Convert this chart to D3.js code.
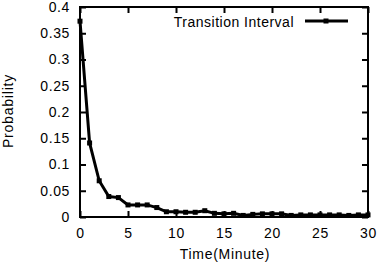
<!DOCTYPE html>
<html lang="en">
<head>
<meta charset="utf-8">
<script src="https://d3js.org/d3.v7.min.js"></script>
<style>
  body { margin: 0; background: #fff; }
  text { font-family: "Liberation Sans", Arial, sans-serif; font-size: 14px; fill: #000; }
</style>
</head>
<body>
<div id="chart"></div>
<script>
// data
var minutes = d3.range(0, 31);
var probs = [0.373, 0.141, 0.069, 0.039, 0.037, 0.023, 0.023, 0.023, 0.018, 0.010,
             0.010, 0.009, 0.009, 0.012, 0.007, 0.006, 0.007, 0.003, 0.005, 0.006,
             0.006, 0.006, 0.003, 0.004, 0.004, 0.004, 0.004, 0.004, 0.003, 0.004, 0.004];
var xTicks = [0, 5, 10, 15, 20, 25, 30];
var yTicks = [0, 0.05, 0.1, 0.15, 0.2, 0.25, 0.3, 0.35, 0.4];
var seriesName = "Transition Interval";

var width = 378, height = 266;
var margin = {top: 7, right: 10, bottom: 49, left: 80};

var svg = d3.select("#chart").append("svg")
    .attr("width", width)
    .attr("height", height);

var x = d3.scaleLinear().domain([0, 30]).range([margin.left, width - margin.right]);
var y = d3.scaleLinear().domain([0, 0.4]).range([height - margin.bottom, margin.top]);

// frame
svg.append("rect")
    .attr("x", x(0)).attr("y", y(0.4))
    .attr("width", x(30) - x(0)).attr("height", y(0) - y(0.4))
    .attr("fill", "none").attr("stroke", "#000").attr("stroke-width", 2);

// axes, inner ticks mirrored
var fmt = function(d) { return d3.format("")(+d.toFixed(2)); };
svg.append("g").attr("transform", "translate(0," + y(0) + ")")
    .call(d3.axisBottom(x).tickValues(xTicks).tickSize(-6).tickPadding(11).tickFormat(d3.format("d")))
    .call(g => g.select(".domain").remove());
svg.append("g").attr("transform", "translate(0," + y(0.4) + ")")
    .call(d3.axisTop(x).tickValues(xTicks).tickSize(-6).tickFormat(""))
    .call(g => g.select(".domain").remove());
svg.append("g").attr("transform", "translate(" + x(0) + ",0)")
    .call(d3.axisLeft(y).tickValues(yTicks).tickSize(-6).tickPadding(10).tickFormat(fmt))
    .call(g => g.select(".domain").remove());
svg.append("g").attr("transform", "translate(" + x(30) + ",0)")
    .call(d3.axisRight(y).tickValues(yTicks).tickSize(-6).tickFormat(""))
    .call(g => g.select(".domain").remove());

svg.selectAll(".tick line").attr("stroke", "#000").attr("stroke-width", 2);
svg.selectAll(".tick text")
    .style("font-size", "14px")
    .style("letter-spacing", "0.6px")
    .style("font-family", "Liberation Sans, Arial, sans-serif");

// series
var data = minutes.map(function(m, i) { return {m: m, p: probs[i]}; });
svg.append("path")
    .datum(data)
    .attr("fill", "none")
    .attr("stroke", "#000")
    .attr("stroke-width", 3)
    .attr("d", d3.line().x(d => x(d.m)).y(d => y(d.p)));

svg.selectAll(".pt")
    .data(data)
    .enter().append("rect")
    .attr("class", "pt")
    .attr("x", d => x(d.m) - 2.5)
    .attr("y", d => y(d.p) - 2.5)
    .attr("width", 5).attr("height", 5)
    .attr("fill", "#000");

// legend
svg.append("text").attr("x", 294).attr("y", 27).attr("text-anchor", "end")
    .style("letter-spacing", "0.5px").text(seriesName);
svg.append("line").attr("x1", 305).attr("x2", 348).attr("y1", 21).attr("y2", 21)
    .attr("stroke", "#000").attr("stroke-width", 3);
svg.append("rect").attr("x", 323.5).attr("y", 18.5).attr("width", 5).attr("height", 5).attr("fill", "#000");

// axis titles
svg.append("text")
    .attr("x", 225).attr("y", 259)
    .attr("text-anchor", "middle")
    .style("letter-spacing", "0.7px").text("Time(Minute)");
svg.append("text")
    .attr("transform", "translate(13,111) rotate(-90)")
    .attr("text-anchor", "middle")
    .style("letter-spacing", "0.8px").text("Probability");
</script>
</body>
</html>
